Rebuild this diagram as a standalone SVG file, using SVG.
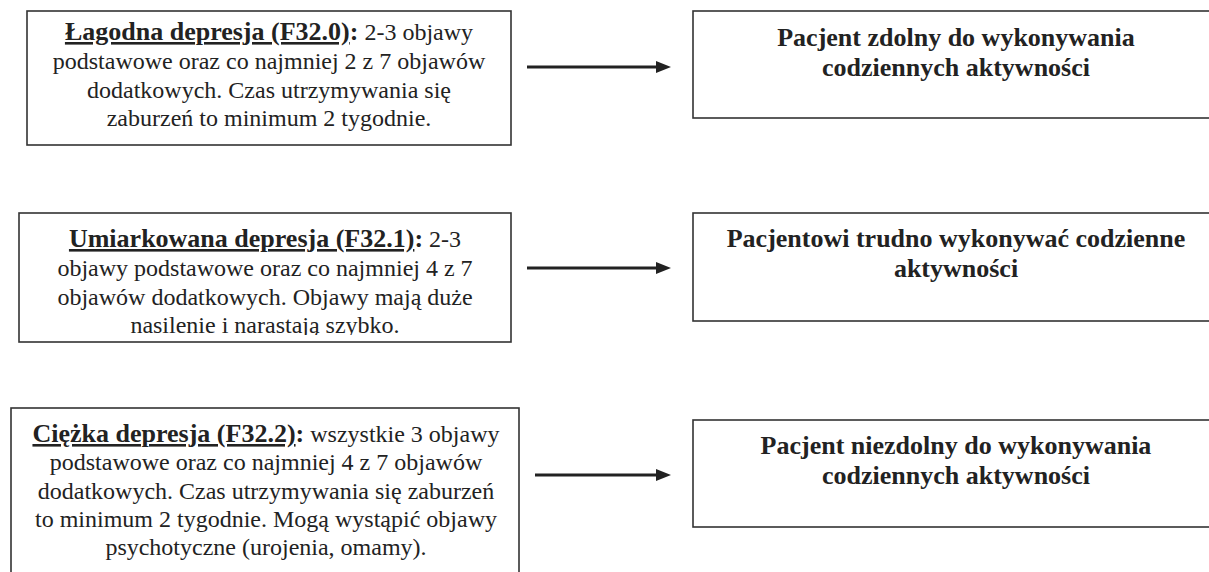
<svg xmlns="http://www.w3.org/2000/svg" width="1209" height="572" viewBox="0 0 1209 572">
<style>
.box{fill:#fff;stroke:#333;stroke-width:1.6}
.t{font-family:"Liberation Serif","Times New Roman",serif;font-size:24px;fill:#222;text-anchor:middle}
.b{font-weight:bold;font-size:26px}
.r{font-family:"Liberation Serif","Times New Roman",serif;font-size:26px;font-weight:bold;fill:#222;text-anchor:middle}
.u{text-decoration:underline}
.con line{stroke:#222;stroke-width:3}
.con polygon{fill:#222}
</style>
<defs>
<clipPath id="clip2"><rect x="19" y="213" width="492" height="122"/></clipPath>
</defs>
<rect width="1209" height="572" fill="#fff"/>

<g id="n1">
<rect class="box" x="27" y="11" width="484" height="134"/>
<text class="t" x="269" y="40"><tspan class="b u">Łagodna depresja (F32.0)</tspan><tspan class="b">:</tspan> 2-3 objawy</text>
<text class="t" x="269" y="69">podstawowe oraz co najmniej 2 z 7 objawów</text>
<text class="t" x="269" y="98">dodatkowych. Czas utrzymywania się</text>
<text class="t" x="269" y="126">zaburzeń to minimum 2 tygodnie.</text>
</g>

<g id="n2">
<rect class="box" x="19" y="213" width="492" height="129"/>
<g clip-path="url(#clip2)">
<text class="t" x="265" y="247"><tspan class="b u">Umiarkowana depresja (F32.1)</tspan><tspan class="b">:</tspan> 2-3</text>
<text class="t" x="265" y="276">objawy podstawowe oraz co najmniej 4 z 7</text>
<text class="t" x="265" y="305">objawów dodatkowych. Objawy mają duże</text>
<text class="t" x="265" y="333">nasilenie i narastają szybko.</text>
</g>
</g>

<g id="n3">
<rect class="box" x="11" y="408" width="508" height="200"/>
<text class="t" x="266" y="442"><tspan class="b u">Ciężka depresja (F32.2)</tspan><tspan class="b">:</tspan> wszystkie 3 objawy</text>
<text class="t" x="266" y="470">podstawowe oraz co najmniej 4 z 7 objawów</text>
<text class="t" x="266" y="499">dodatkowych. Czas utrzymywania się zaburzeń</text>
<text class="t" x="266" y="527">to minimum 2 tygodnie. Mogą wystąpić objawy</text>
<text class="t" x="266" y="555">psychotyczne (urojenia, omamy).</text>
</g>

<g id="r1">
<rect class="box" x="693" y="11" width="526" height="107"/>
<text class="r" x="956" y="46">Pacjent zdolny do wykonywania</text>
<text class="r" x="956" y="76">codziennych aktywności</text>
</g>

<g id="r2">
<rect class="box" x="693" y="213" width="526" height="108"/>
<text class="r" x="956" y="247">Pacjentowi trudno wykonywać codzienne</text>
<text class="r" x="956" y="277">aktywności</text>
</g>

<g id="r3">
<rect class="box" x="693" y="420" width="526" height="107"/>
<text class="r" x="956" y="454">Pacjent niezdolny do wykonywania</text>
<text class="r" x="956" y="484">codziennych aktywności</text>
</g>

<g id="connectors" class="con">
<line x1="527" y1="67" x2="658" y2="67"/>
<polygon points="656,61 671,67 656,73"/>
<line x1="527" y1="268" x2="658" y2="268"/>
<polygon points="656,262 671,268 656,274"/>
<line x1="535" y1="475" x2="658" y2="475"/>
<polygon points="656,469 671,475 656,481"/>
</g>
</svg>
